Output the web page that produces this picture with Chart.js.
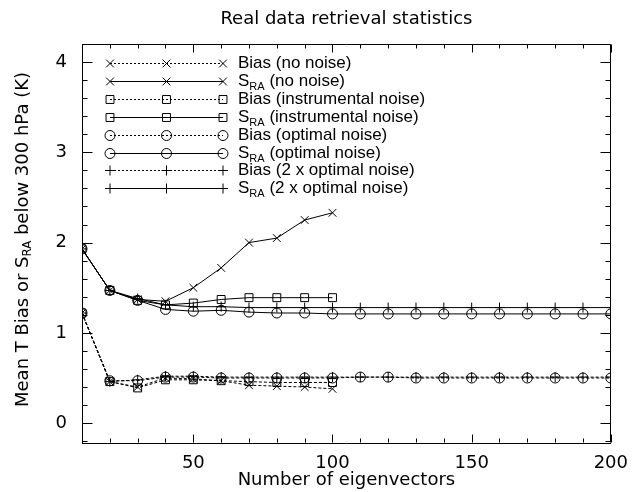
<!DOCTYPE html>
<html>
<head>
<meta charset="utf-8">
<script src="https://cdn.jsdelivr.net/npm/chart.js@4.4.0/dist/chart.umd.min.js"></script>
<style>
  html, body { margin: 0; padding: 0; background: #fff; }
  canvas { display: block; }
</style>
</head>
<body>
<canvas id="retrievalChart" width="638" height="492"></canvas>
<script>
// Number of eigenvectors (x) for every run
const eigenvectors = [10, 20, 30, 40, 50, 60, 70, 80, 90, 100,
                      110, 120, 130, 140, 150, 160, 170, 180, 190, 200];

// Values (K)
const biasNoNoise  = [1.22, 0.46, 0.40, 0.50, 0.49, 0.47, 0.42, 0.41, 0.40, 0.38];
const sraNoNoise   = [1.93, 1.47, 1.37, 1.35, 1.50, 1.72, 2.00, 2.05, 2.25, 2.33];
const biasInstr    = [1.22, 0.46, 0.39, 0.48, 0.48, 0.47, 0.46, 0.45, 0.45, 0.45];
const sraInstr     = [1.93, 1.47, 1.36, 1.31, 1.33, 1.37, 1.39, 1.39, 1.39, 1.39];
const biasOptimal  = [1.22, 0.47, 0.47, 0.51, 0.51, 0.50, 0.50, 0.50, 0.50, 0.50,
                      0.51, 0.51, 0.50, 0.50, 0.50, 0.50, 0.50, 0.50, 0.50, 0.50];
const sraOptimal   = [1.93, 1.47, 1.36, 1.26, 1.24, 1.25, 1.23, 1.22, 1.22, 1.21,
                      1.21, 1.21, 1.21, 1.21, 1.21, 1.21, 1.21, 1.21, 1.21, 1.21];
const bias2Optimal = [1.22, 0.46, 0.48, 0.52, 0.52, 0.51, 0.51, 0.51, 0.51, 0.51,
                      0.51, 0.51, 0.51, 0.51, 0.51, 0.51, 0.51, 0.51, 0.51, 0.51];
const sra2Optimal  = [1.93, 1.47, 1.38, 1.31, 1.29, 1.29, 1.28, 1.28, 1.28, 1.28,
                      1.28, 1.28, 1.28, 1.28, 1.28, 1.28, 1.28, 1.28, 1.28, 1.28];

const seriesLabels = [
    'Bias (no noise)', 'S_RA (no noise)',
    'Bias (instrumental noise)', 'S_RA (instrumental noise)',
    'Bias (optimal noise)', 'S_RA (optimal noise)',
    'Bias (2 x optimal noise)', 'S_RA (2 x optimal noise)'
];
const xTickValues = [50, 100, 150, 200];
const yTickValues = [0, 1, 2, 3, 4];

const FONT = "'DejaVu Sans', sans-serif";
const LEGEND_FONT = "'Liberation Sans', Arial, sans-serif";

function toPoints(values) {
    return values.map((v, i) => ({ x: eigenvectors[i], y: v }));
}

function makeSeries(label, values, marker, radius, dashed) {
    return {
        label: label,
        data: toPoints(values),
        borderColor: '#000',
        backgroundColor: 'rgba(0,0,0,0)',
        borderWidth: 1,
        borderDash: dashed ? [3, 2] : [],
        pointStyle: marker,
        pointRadius: radius,
        pointBorderColor: '#000',
        pointBackgroundColor: 'rgba(0,0,0,0)',
        pointBorderWidth: 1,
        tension: 0,
        clip: 0
    };
}

const datasets = [
    makeSeries(seriesLabels[0], biasNoNoise, 'crossRot', 5.5, true),
    makeSeries(seriesLabels[1], sraNoNoise, 'crossRot', 5.5, false),
    makeSeries(seriesLabels[2], biasInstr, 'rect', 5.6, true),
    makeSeries(seriesLabels[3], sraInstr, 'rect', 5.6, false),
    makeSeries(seriesLabels[4], biasOptimal, 'circle', 5, true),
    makeSeries(seriesLabels[5], sraOptimal, 'circle', 5, false),
    makeSeries(seriesLabels[6], bias2Optimal, 'cross', 5, true),
    makeSeries(seriesLabels[7], sra2Optimal, 'cross', 5, false)
];

// draws "S" with a subscript "RA" (or a plain string), returns the width used
function drawRich(ctx, text, x, y, size, family, measureOnly) {
    let parts = [];
    if (text.startsWith('S_RA')) {
        parts = [{ t: 'S', s: size, dy: 0 }, { t: 'RA', s: size * 0.65, dy: size * 0.3 }, { t: text.slice(4), s: size, dy: 0 }];
    } else {
        const idx = text.indexOf('S_RA');
        if (idx > 0) {
            parts = [{ t: text.slice(0, idx + 1).replace('S_', 'S'), s: size, dy: 0 }];
            parts = [{ t: text.slice(0, idx) + 'S', s: size, dy: 0 },
                     { t: 'RA', s: size * 0.65, dy: size * 0.3 },
                     { t: text.slice(idx + 4), s: size, dy: 0 }];
        } else {
            parts = [{ t: text, s: size, dy: 0 }];
        }
    }
    let w = 0;
    parts.forEach(p => {
        ctx.font = p.s + 'px ' + family;
        if (!measureOnly) ctx.fillText(p.t, x + w, y + p.dy);
        w += ctx.measureText(p.t).width;
    });
    return w;
}

function drawMarker(ctx, style, radius, x, y) {
    if (Chart.helpers && Chart.helpers.drawPoint) {
        Chart.helpers.drawPoint(ctx, { pointStyle: style, radius: radius, borderWidth: 1, rotation: 0 }, x, y);
    }
}

const plotDecorations = {
    id: 'plotDecorations',
    afterDraw(chart) {
        const { ctx, chartArea: a, scales: { x, y } } = chart;
        ctx.save();
        ctx.strokeStyle = '#000';
        ctx.fillStyle = '#000';
        ctx.lineWidth = 1;

        // top and right frame
        const top = Math.round(a.top) + 0.5, right = Math.round(a.right) - 0.5;
        const bottom = Math.round(a.bottom) - 0.5, left = Math.round(a.left) + 0.5;
        ctx.beginPath();
        ctx.moveTo(left, top); ctx.lineTo(right, top); ctx.lineTo(right, bottom);
        ctx.stroke();

        // inward tick marks on all four sides
        ctx.beginPath();
        for (let v = 10; v <= 200; v += 10) {
            const px = Math.round(x.getPixelForValue(v)) + 0.5;
            const len = xTickValues.includes(v) ? 8 : 4;
            ctx.moveTo(px, bottom); ctx.lineTo(px, bottom - len);
            ctx.moveTo(px, top); ctx.lineTo(px, top + len);
        }
        for (let k = -1; k <= 21; k++) {
            const v = k * 0.2;
            if (v < y.min || v > y.max) continue;
            const py = Math.round(y.getPixelForValue(v)) + 0.5;
            const len = (k % 5 === 0) ? 10 : 5;
            ctx.moveTo(left, py); ctx.lineTo(left + len, py);
            ctx.moveTo(right, py); ctx.lineTo(right - len, py);
        }
        ctx.stroke();

        // title
        ctx.textBaseline = 'middle';
        ctx.textAlign = 'center';
        ctx.font = '18px ' + FONT;
        ctx.fillText('Real data retrieval statistics', (a.left + a.right) / 2, 19);

        // y axis title, rotated, with subscript
        ctx.save();
        ctx.translate(23, (a.top + a.bottom) / 2 - 4);
        ctx.rotate(-Math.PI / 2);
        ctx.textAlign = 'left';
        const yTitle = 'Mean T Bias or S_RA below 300 hPa (K)';
        const tw = drawRich(ctx, yTitle, 0, 0, 18, FONT, true);
        drawRich(ctx, yTitle, -tw / 2, 0, 18, FONT, false);
        ctx.restore();

        // legend
        ctx.textAlign = 'left';
        const x0 = a.left + 28, x1 = a.left + 141, xm = (x0 + x1) / 2;
        chart.data.datasets.forEach((ds, i) => {
            const ry = Math.round(a.top + 19 + i * 17.9) + 0.5;
            ctx.save();
            ctx.setLineDash(ds.borderDash.length ? [2, 2] : []);
            ctx.beginPath();
            ctx.moveTo(x0, ry); ctx.lineTo(x1, ry);
            ctx.stroke();
            ctx.restore();
            ctx.fillStyle = 'rgba(0,0,0,0)';
            [x0, xm, x1].forEach(px => drawMarker(ctx, ds.pointStyle, ds.pointRadius, px, ry));
            ctx.fillStyle = '#000';
            drawRich(ctx, ds.label, a.left + 156, ry, 17, LEGEND_FONT, false);
        });
        ctx.restore();
    }
};

new Chart(document.getElementById('retrievalChart'), {
    type: 'line',
    data: { datasets: datasets },
    options: {
        responsive: false,
        animation: false,
        layout: { padding: { top: 44, right: 21, left: 0, bottom: 0 } },
        plugins: {
            legend: { display: false },
            tooltip: { enabled: false },
            title: { display: false }
        },
        scales: {
            x: {
                type: 'linear',
                min: 10,
                max: 200,
                afterFit: s => { s.height = 49; },
                afterBuildTicks: s => { s.ticks = xTickValues.map(v => ({ value: v })); },
                grid: { display: false, drawTicks: false },
                border: { display: true, color: '#000', width: 1 },
                ticks: { color: '#000', font: { family: FONT, size: 18 }, padding: 10, maxRotation: 0, autoSkip: false },
                title: {
                    display: true,
                    text: 'Number of eigenvectors',
                    color: '#000',
                    font: { family: FONT, size: 18 },
                    padding: { top: 0, bottom: 1 }
                }
            },
            y: {
                type: 'linear',
                min: -0.22,
                max: 4.2,
                afterFit: s => { s.width = 82; },
                afterBuildTicks: s => { s.ticks = yTickValues.map(v => ({ value: v })); },
                grid: { display: false, drawTicks: false },
                border: { display: true, color: '#000', width: 1 },
                ticks: { color: '#000', font: { family: FONT, size: 18 }, padding: 15, autoSkip: false }
            }
        }
    },
    plugins: [plotDecorations]
});
</script>
</body>
</html>
